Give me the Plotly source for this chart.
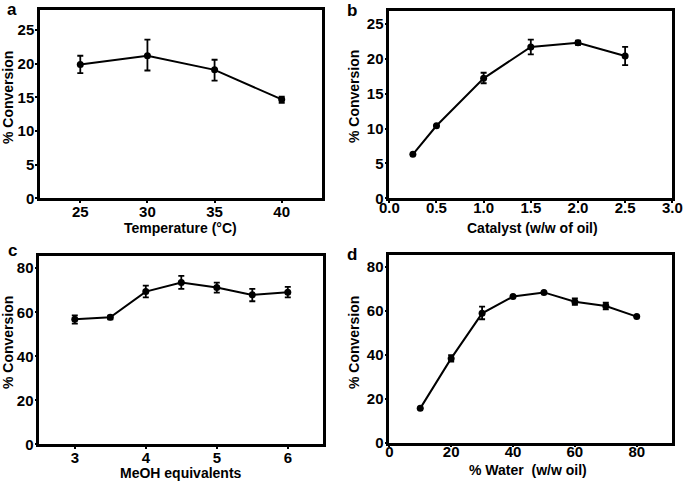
import plotly.graph_objects as go

# panel a: temperature
temp_x = [25, 30, 35, 40]
temp_y = [19.9, 21.2, 19.1, 14.7]
temp_hi = [21.2, 23.6, 20.6, 15.1]
temp_lo = [18.6, 19.0, 17.5, 14.2]

# panel b: catalyst loading
cat_x = [0.25, 0.5, 1.0, 1.5, 2.0, 2.5]
cat_y = [6.3, 10.4, 17.2, 21.7, 22.3, 20.4]
cat_hi = [6.3, 10.4, 18.0, 22.75, 22.6, 21.7]
cat_lo = [6.3, 10.4, 16.5, 20.65, 22.0, 19.1]

# panel c: methanol equivalents
meoh_x = [3, 3.5, 4, 4.5, 5, 5.5, 6]
meoh_y = [56.8, 57.7, 69.4, 73.5, 71.2, 67.9, 69.1]
meoh_hi = [58.6, 58.5, 72.1, 76.5, 73.5, 70.6, 71.5]
meoh_lo = [54.8, 56.8, 66.8, 70.6, 68.9, 65.0, 66.8]

# panel d: water content
water_x = [10, 20, 30, 40, 50, 60, 70, 80]
water_y = [15.6, 38.3, 58.8, 66.4, 68.3, 64.1, 62.1, 57.3]
water_hi = [15.6, 39.8, 61.8, 66.4, 68.3, 65.6, 63.6, 57.3]
water_lo = [15.6, 36.8, 56.1, 66.4, 68.3, 62.6, 60.6, 57.3]

W, H = 685, 482
FONT = "Liberation Sans"


def px(x):
    return x / W


def py(y):
    return (H - y) / H


panels = [
    # x, y, hi, lo, xrange, yrange, xticks, yticks, xfmt, box(l, r, top, bottom), label standoff
    (temp_x, temp_y, temp_hi, temp_lo, [22, 43], [0, 28],
     [25, 30, 35, 40], [0, 5, 10, 15, 20, 25], None, (40, 322, 10, 198.3), -4),
    (cat_x, cat_y, cat_hi, cat_lo, [0, 3], [0, 26.9],
     [0, 0.5, 1, 1.5, 2, 2.5, 3], [0, 5, 10, 15, 20, 25], ".1f", (389.3, 672.3, 10.7, 198.3), -8),
    (meoh_x, meoh_y, meoh_hi, meoh_lo, [2.5, 6.5], [0, 85.7],
     [3, 4, 5, 6], [0, 20, 40, 60, 80], None, (39.3, 323.3, 255.7, 444.3), -4),
    (water_x, water_y, water_hi, water_lo, [0, 91.5], [0, 85.3],
     [0, 20, 40, 60, 80], [0, 20, 40, 60, 80], None, (389.3, 672.3, 255, 442.7), -8),
]

fig = go.Figure()
layout = {}
for i, (x, y, hi, lo, xr, yr, xt, yt, xfmt, box, xstand) in enumerate(panels):
    n = "" if i == 0 else str(i + 1)
    fig.add_trace(go.Scatter(
        x=x, y=y,
        mode="lines+markers",
        line=dict(color="black", width=2),
        marker=dict(color="black", size=7),
        error_y=dict(
            type="data", symmetric=False,
            array=[h - v for h, v in zip(hi, y)],
            arrayminus=[v - l for v, l in zip(y, lo)],
            color="black", thickness=1.8, width=3,
        ),
        xaxis="x" + n, yaxis="y" + n,
        showlegend=False,
    ))
    l, r, t, b = box
    layout["xaxis" + n] = dict(
        domain=[px(l), px(r)], range=xr, tickvals=xt,
        tickformat=xfmt, automargin=False,
        showline=True, mirror=True, linecolor="black", linewidth=2.5,
        ticks="outside", ticklen=2, tickwidth=1.5, tickcolor="black",
        showgrid=False, zeroline=False, anchor="y" + n,
        ticklabelstandoff=xstand,
        tickfont=dict(family=FONT, size=15, color="black", weight="bold"),
    )
    layout["yaxis" + n] = dict(
        domain=[py(b), py(t)], range=yr, tickvals=yt, automargin=False,
        showline=True, mirror=True, linecolor="black", linewidth=2.5,
        ticks="outside", ticklen=2, tickwidth=1.5, tickcolor="black",
        showgrid=False, zeroline=False, anchor="x" + n,
        ticklabelstandoff=-2,
        tickfont=dict(family=FONT, size=15, color="black", weight="bold"),
    )

fig.update_layout(**layout)


def label(txt, x, y, size, angle=0):
    return dict(text=txt, x=px(x), y=py(y), xref="paper", yref="paper",
                xanchor="center", yanchor="middle", showarrow=False, textangle=angle,
                font=dict(family=FONT, size=size, color="black", weight="bold"))


annotations = []
# panel letters
for txt, x, y in [("a", 12, 9), ("b", 352, 10), ("c", 12, 251), ("d", 352, 254)]:
    annotations.append(label(txt, x, y, 17))
# x titles
for txt, x, y in [("Temperature (°C)", 180, 228), ("Catalyst (w/w of oil)", 532, 228),
                  ("MeOH equivalents", 181, 473), ("% Water  (w/w oil)", 528, 470)]:
    annotations.append(label(txt, x, y, 14))
# y titles
for x, y in [(8, 98), (354, 97), (8, 343), (354, 343)]:
    annotations.append(label("% Conversion", x, y, 14, -90))

fig.update_layout(
    template="none",
    width=W, height=H,
    margin=dict(l=0, r=0, t=0, b=0),
    paper_bgcolor="white", plot_bgcolor="white",
    annotations=annotations,
)

fig.write_html("out.html", config={"displayModeBar": False},
               post_script="document.body.style.margin = '0';")
